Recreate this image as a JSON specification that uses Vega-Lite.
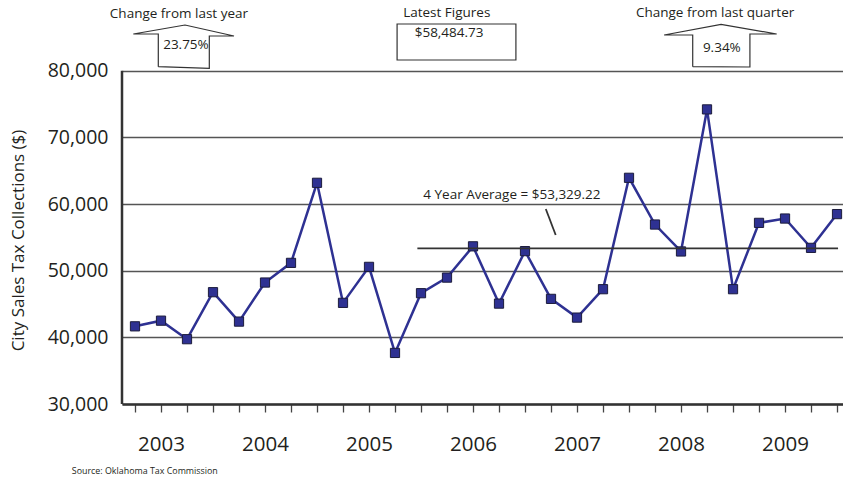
{
  "$schema": "https://vega.github.io/schema/vega-lite/v6.json",
  "width": 721,
  "height": 400,
  "autosize": {"type": "none"},
  "padding": {"left": 122, "top": 4, "right": 0, "bottom": 74},
  "background": "white",
  "config": {"view": {"stroke": null}, "font": "Open Sans"},
  "encoding": {
    "x": {
      "field": "quarter", "type": "quantitative",
      "scale": {"domain": [-0.5, 27.23], "nice": false, "zero": false},
      "axis": {
        "values": [0,1,2,3,4,5,6,7,8,9,10,11,12,13,14,15,16,17,18,19,20,21,22,23,24,25,26,27],
        "labelExpr": "datum.value % 4 == 1 ? '' + (2003 + floor(datum.value / 4)) : ''",
        "labelOverlap": false, "labelFlush": false, "labelBound": false,
        "labelFontSize": 20.5, "labelFont": "Open Sans", "labelColor": "#231f20", "labelPadding": 22, "labelDx": 2,
        "tickSize": 8, "tickColor": "#444", "tickWidth": 1.3,
        "domainColor": "#333", "domainWidth": 2.5,
        "grid": false, "title": null
      }
    },
    "y": {
      "field": "amount", "type": "quantitative",
      "scale": {"domain": [30000, 90000], "nice": false, "zero": false},
      "axis": {
        "values": [30000, 40000, 50000, 60000, 70000, 80000],
        "format": ",.0f",
        "ticks": false, "domain": false,
        "grid": true, "gridColor": "#555", "gridWidth": 1.5,
        "labelFontSize": 19.5, "labelFont": "Open Sans", "labelColor": "#231f20", "labelPadding": 14,
        "title": "City Sales Tax Collections ($)",
        "titleFontSize": 17, "titleFontWeight": "normal", "titleFont": "Open Sans", "titleColor": "#231f20",
        "titleX": -104, "titleY": 236, "titleAngle": -90, "titleAlign": "center", "titleBaseline": "middle"
      }
    }
  },
  "layer": [
    {
      "data": {"values": [{"quarter": -0.5, "amount": 30000, "amount2": 80000}]},
      "mark": {"type": "rule", "color": "#333", "strokeWidth": 2.5},
      "encoding": {"y2": {"field": "amount2"}}
    },
    {
      "data": {"values": [
        {"quarter": 0, "amount": 41650}, {"quarter": 1, "amount": 42500}, {"quarter": 2, "amount": 39720}, {"quarter": 3, "amount": 46770},
        {"quarter": 4, "amount": 42360}, {"quarter": 5, "amount": 48220}, {"quarter": 6, "amount": 51170}, {"quarter": 7, "amount": 63180},
        {"quarter": 8, "amount": 45170}, {"quarter": 9, "amount": 50570}, {"quarter": 10, "amount": 37660}, {"quarter": 11, "amount": 46620},
        {"quarter": 12, "amount": 48960}, {"quarter": 13, "amount": 53650}, {"quarter": 14, "amount": 45060}, {"quarter": 15, "amount": 52930},
        {"quarter": 16, "amount": 45770}, {"quarter": 17, "amount": 42960}, {"quarter": 18, "amount": 47220}, {"quarter": 19, "amount": 63930},
        {"quarter": 20, "amount": 56920}, {"quarter": 21, "amount": 52880}, {"quarter": 22, "amount": 74190}, {"quarter": 23, "amount": 47220},
        {"quarter": 24, "amount": 57170}, {"quarter": 25, "amount": 57820}, {"quarter": 26, "amount": 53420}, {"quarter": 27, "amount": 58485}
      ]},
      "layer": [
        {"mark": {"type": "line", "color": "#2e3192", "strokeWidth": 2.5}},
        {"mark": {"type": "point", "shape": "square", "size": 85, "filled": true, "fill": "#2e3192", "stroke": "#1c1c3c", "strokeWidth": 1, "opacity": 1}}
      ]
    },
    {
      "data": {"values": [
        {"quarter": 10.86, "quarter2": 27.04, "amount": 53329.22, "amount2": 53329.22},
        {"quarter": 15.8, "quarter2": 16.18, "amount": 59250, "amount2": 55350}
      ]},
      "mark": {"type": "rule", "color": "#333", "strokeWidth": 1.8},
      "encoding": {"x2": {"field": "quarter2"}, "y2": {"field": "amount2"}}
    },
    {
      "data": {"values": [
        {"shape": "year", "order": 1, "quarter": 0.896, "amount": 80595},
        {"shape": "year", "order": 2, "quarter": 0.896, "amount": 85500},
        {"shape": "year", "order": 3, "quarter": -0.065, "amount": 85500},
        {"shape": "year", "order": 4, "quarter": 1.923, "amount": 86850},
        {"shape": "year", "order": 5, "quarter": 3.808, "amount": 85200},
        {"shape": "year", "order": 6, "quarter": 2.858, "amount": 85200},
        {"shape": "year", "order": 7, "quarter": 2.858, "amount": 80355},
        {"shape": "year", "order": 8, "quarter": 0.896, "amount": 80595},
        {"shape": "qtr", "order": 1, "quarter": 21.45, "amount": 80595},
        {"shape": "qtr", "order": 2, "quarter": 21.45, "amount": 85350},
        {"shape": "qtr", "order": 3, "quarter": 20.35, "amount": 85350},
        {"shape": "qtr", "order": 4, "quarter": 22.54, "amount": 86955},
        {"shape": "qtr", "order": 5, "quarter": 24.68, "amount": 85500},
        {"shape": "qtr", "order": 6, "quarter": 23.65, "amount": 85500},
        {"shape": "qtr", "order": 7, "quarter": 23.65, "amount": 80550},
        {"shape": "qtr", "order": 8, "quarter": 21.45, "amount": 80595}
      ]},
      "mark": {"type": "line", "color": "#333", "strokeWidth": 1.2},
      "encoding": {"detail": {"field": "shape"}, "order": {"field": "order", "type": "quantitative"}}
    },
    {
      "data": {"values": [{"quarter": 10.08, "quarter2": 14.65, "amount": 87000, "amount2": 81600}]},
      "mark": {"type": "rect", "fill": "white", "stroke": "#333", "strokeWidth": 1.2},
      "encoding": {"x2": {"field": "quarter2"}, "y2": {"field": "amount2"}}
    },
    {
      "data": {"values": [
        {"quarter": 1.69, "amount": 88500, "label": "Change from last year"},
        {"quarter": 1.96, "amount": 83850, "label": "23.75%"},
        {"quarter": 11.99, "amount": 88700, "label": "Latest Figures"},
        {"quarter": 12.08, "amount": 85700, "label": "$58,484.73"},
        {"quarter": 22.31, "amount": 88605, "label": "Change from last quarter"},
        {"quarter": 22.57, "amount": 83400, "label": "9.34%"}
      ]},
      "mark": {"type": "text", "fontSize": 13.5, "font": "Open Sans", "color": "#231f20", "align": "center", "baseline": "middle"},
      "encoding": {"text": {"field": "label"}}
    },
    {
      "data": {"values": [{"quarter": 11.09, "amount": 61350, "label": "4 Year Average = $53,329.22"}]},
      "mark": {"type": "text", "fontSize": 13.5, "font": "Open Sans", "color": "#231f20", "align": "left", "baseline": "middle"},
      "encoding": {"text": {"field": "label"}}
    },
    {
      "data": {"values": [{"quarter": -2.43, "amount": 19950, "label": "Source: Oklahoma Tax Commission"}]},
      "mark": {"type": "text", "fontSize": 8.9, "font": "Open Sans", "color": "#231f20", "align": "left", "baseline": "middle"},
      "encoding": {"text": {"field": "label"}}
    }
  ]
}
